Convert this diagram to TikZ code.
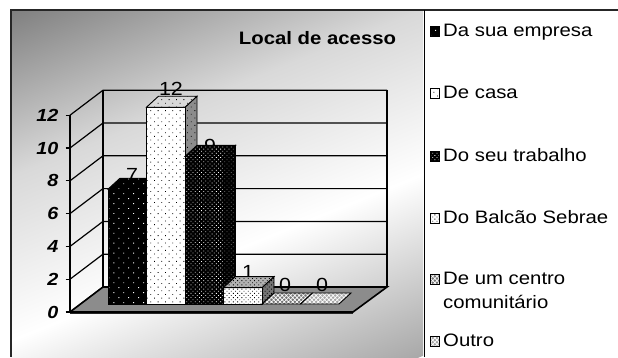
\documentclass[tikz,border=0pt]{standalone}
\usepackage{fontspec}
\setmainfont[FakeStretch=1.13]{Liberation Sans}
\usetikzlibrary{patterns.meta}
\pgfdeclareverticalshading{bgshade}{100bp}{color(0bp)=(black!34); color(25bp)=(black!34); color(42.7bp)=(white); color(58.8bp)=(black!15); color(75bp)=(black!50); color(100bp)=(black!50)}
\newcommand\mybar[5]{%
  \pgfmathsetmacro\myX{#1}\pgfmathsetmacro\myY{304-16.4*#2}%
  \path[#5] (\myX+38.5,\myY) -- (\myX+50.5,\myY-11) -- (\myX+50.5,293) -- (\myX+38.5,304) -- cycle;
  \path[#3] (\myX,304) rectangle (\myX+38.5,\myY);
  \path[#4] (\myX,\myY) -- (\myX+38.5,\myY) -- (\myX+50.5,\myY-11) -- (\myX+12,\myY-11) -- cycle;
}
\begin{document}
\begin{tikzpicture}[x=1pt,y=-1pt,line join=miter,
  gridline/.style={line width=1.2pt,black},
  legtext/.style={anchor=base west,inner sep=0pt,font=\fontsize{18}{21}\selectfont},
  axislab/.style={anchor=east,inner sep=0pt,font=\bfseries\itshape\fontsize{17.5}{20}\selectfont},
  datalab/.style={inner sep=0pt,font=\fontsize{19}{22}\selectfont},
  face/.style={draw=black,line width=0.9pt},
  pA/.style={face,preaction={fill=black},pattern={Dots[radius=0.65pt,distance=7pt,angle=45]},pattern color=white},
  pB/.style={face,preaction={fill=#1},pattern={Dots[radius=0.6pt,distance=5.2pt,angle=45]},pattern color=black},
  pC/.style={face,preaction={fill=black},pattern={Dots[radius=0.55pt,distance=3pt,angle=45]},pattern color=#1},
  pD/.style={face,preaction={fill=#1},pattern={Dots[radius=0.6pt,distance=3pt,angle=45]},pattern color=black},
  pE/.style={face,preaction={fill=#1},pattern={Hatch[distance=3pt,angle=45,line width=0.7pt]},pattern color=white},
]
\useasboundingbox (0,0) rectangle (618,357);
\fill[white] (0,0) rectangle (618,357);
% chart area
\begin{scope}
  \clip (11,10) rectangle (423,357);
  \shade[shading=bgshade,transform canvas={shift={(11,10)},rotate=22}] (-150,0) rectangle (400,475);
\end{scope}
\draw[line width=2.2pt,black!85] (11,357) -- (11,10) -- (618,10);
\draw[line width=1.5pt] (424.5,10) -- (424.5,357);
% title
\node[anchor=base,inner sep=0pt,font=\bfseries\fontsize{18}{21}\selectfont] (title) at (317.5,44) {Local de acesso};
% walls and grid
\foreach \k/\t in {0/0,1/2,2/4,3/6,4/8,5/10,6/12}{
  \pgfmathsetmacro\yf{312-32.8*\k}
  \pgfmathsetmacro\yb{287-32.8*\k}
  \draw[gridline] (70,\yf) -- (103,\yb) -- (387,\yb);
  \draw[gridline] (65.5,\yf) -- (70,\yf);
  \node[axislab] (ax\k) at (58.5,\yf) {\t};
}
\draw[gridline] (70,115.2) -- (70,312);
\draw[gridline] (103,90.2) -- (103,287);
\draw[gridline] (387,90.2) -- (387,287);
% floor
\filldraw[fill=black!45,draw=black,line width=1.6pt] (70,312) -- (353,312) -- (387,287) -- (103,287) -- cycle;
\draw[line width=1.5pt,black!85] (70,313.5) -- (353,313.5);
% data labels
\node[datalab] (l1) at (132,175) {7};
\node[datalab] (l2) at (171,89) {12};
\node[datalab] (l3) at (210,146) {9};
\node[datalab] (l4) at (248,272) {1};
\node[datalab] (l5) at (285,285) {0};
\node[datalab] (l6) at (322,285) {0};
% bars
\mybar{108}{7}{pA}{pA}{pA}
\mybar{146.5}{12}{pB=white}{pB=black!15}{pB=black!45}
\mybar{185}{9}{pC=white}{pC=white}{pC=black!50}
\mybar{223.5}{1}{pD=white}{pD=black!30}{pD=black!55}
\path[pE=black!55] (262,304) -- (300.5,304) -- (312.5,293) -- (274,293) -- cycle;
\path[pE=black!35] (300.5,304) -- (339,304) -- (351,293) -- (312.5,293) -- cycle;
% legend
\path[pA] (430,26) rectangle (439,36);
\node[legtext] (t1) at (443,36) {Da sua empresa};
\path[pB=white] (430,88) rectangle (439,98);
\node[legtext] (t2) at (443,98) {De casa};
\path[pC=white] (430,151) rectangle (439,161);
\node[legtext] (t3) at (443,161) {Do seu trabalho};
\path[pD=white] (430,213) rectangle (439,223);
\node[legtext] (t4) at (443,223) {Do Balcão Sebrae};
\path[pE=black!55] (430,274) rectangle (439,284);
\node[legtext] (t5) at (443,284) {De um centro};
\node[legtext] (t5b) at (443,308) {comunitário};
\path[pE=black!35] (430,336) rectangle (439,346);
\node[legtext] (t6) at (443,346) {Outro};
\end{tikzpicture}
\end{document}
